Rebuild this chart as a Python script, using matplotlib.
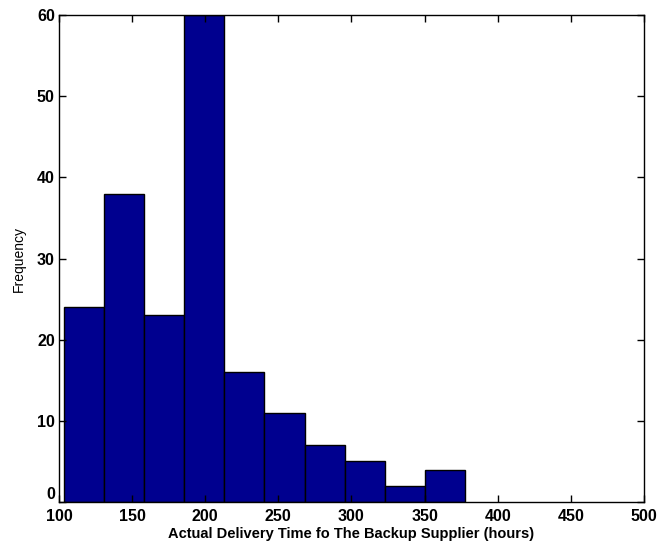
import numpy as np
import matplotlib.pyplot as plt

plt.rcParams['font.family'] = ['Liberation Sans Narrow', 'DejaVu Sans Condensed', 'Liberation Sans', 'DejaVu Sans']

# histogram of delivery times (10 bins)
bin_edges = np.linspace(103.4, 377.6, 11)
counts = [24, 38, 23, 60, 16, 11, 7, 5, 2, 4]

fig = plt.figure(figsize=(6.59, 5.48), dpi=100)
ax = fig.add_axes([0.0895, 0.0839, 0.8875, 0.8887])

ax.bar(bin_edges[:-1], counts, width=np.diff(bin_edges), align='edge',
       color='#00008F', edgecolor='black', linewidth=1.0)

ax.set_xlim(100, 500)
ax.set_ylim(0, 60)
ax.set_xticks(range(100, 501, 50))
ax.set_yticks(range(0, 61, 10))
ax.tick_params(direction='in', top=True, right=True, length=5, width=1,
               labelsize=11.5)
ax.tick_params(axis='x', pad=5)
ax.tick_params(axis='y', pad=3)
for label in ax.get_xticklabels() + ax.get_yticklabels():
    label.set_fontweight('bold')
# lift the "0" a little so it clears the "100"
ax.get_yticklabels()[0].set_verticalalignment('bottom')

for s in ax.spines.values():
    s.set_linewidth(1.0)

ax.set_xlabel('Actual Delivery Time fo The Backup Supplier (hours)',
              fontsize=10.5, fontweight='bold', labelpad=2)
ax.set_ylabel('Frequency', fontsize=10, labelpad=8)

fig.savefig('out.png', dpi=100)
